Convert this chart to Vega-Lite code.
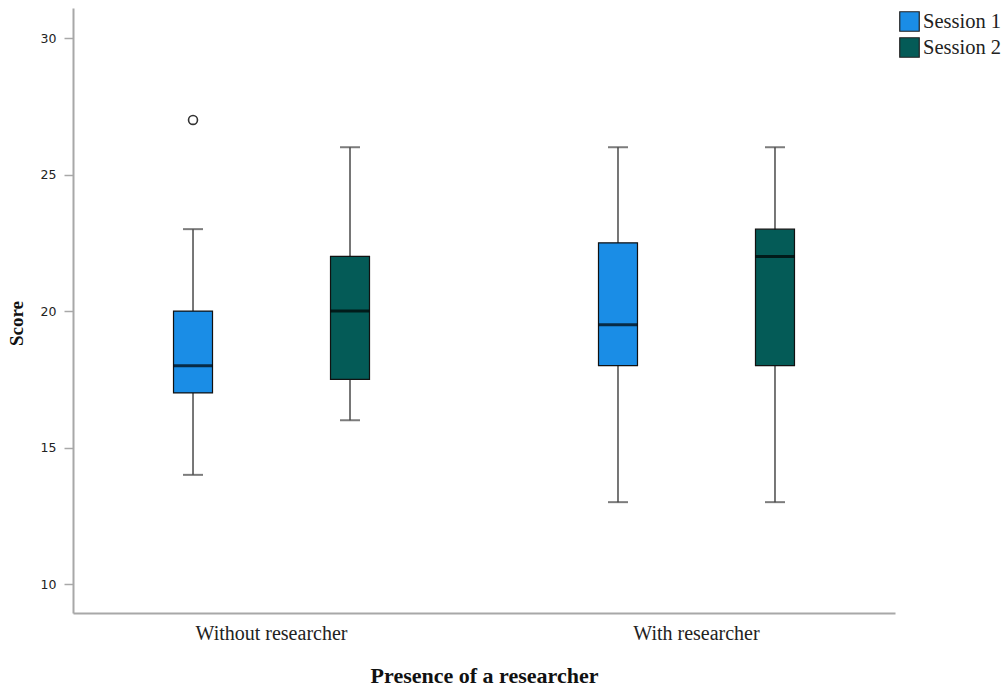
{
  "$schema": "https://vega.github.io/schema/vega-lite/v6.json",
  "width": 822,
  "height": 605,
  "autosize": {"type": "none"},
  "padding": {"left": 73, "top": 8, "right": 112, "bottom": 75},
  "background": "white",
  "config": {
    "view": {"stroke": null},
    "font": "Liberation Serif"
  },
  "datasets": {
    "boxes": [
      {"group": "Without researcher", "session": "Session 1", "lower": 14, "q1": 17, "median": 18, "q3": 20, "upper": 23},
      {"group": "Without researcher", "session": "Session 2", "lower": 16, "q1": 17.5, "median": 20, "q3": 22, "upper": 26},
      {"group": "With researcher", "session": "Session 1", "lower": 13, "q1": 18, "median": 19.5, "q3": 22.5, "upper": 26},
      {"group": "With researcher", "session": "Session 2", "lower": 13, "q1": 18, "median": 22, "q3": 23, "upper": 26}
    ],
    "outliers": [
      {"group": "Without researcher", "session": "Session 1", "score": 27}
    ]
  },
  "encoding": {
    "x": {
      "field": "group", "type": "nominal",
      "sort": ["Without researcher", "With researcher"],
      "scale": {"domain": ["Without researcher", "With researcher"], "paddingInner": 0.2, "paddingOuter": 0.0671},
      "axis": {
        "title": "Presence of a researcher",
        "titleFont": "Liberation Serif", "titleFontSize": 22, "titleFontWeight": "bold", "titleColor": "#111",
        "titlePadding": 22,
        "labelFont": "Liberation Serif", "labelFontSize": 20, "labelColor": "#222", "labelAngle": 0,
        "labelPadding": 10,
        "ticks": false,
        "domainColor": "#a8a8a8", "domainWidth": 2
      }
    },
    "xOffset": {
      "field": "session", "type": "nominal",
      "scale": {"domain": ["Session 1", "Session 2"], "paddingInner": 0.7516, "paddingOuter": 0.4586}
    }
  },
  "layer": [
    {
      "data": {"name": "boxes"},
      "mark": {"type": "rule", "color": "#555555", "strokeWidth": 1.6},
      "encoding": {
        "y": {
          "field": "lower", "type": "quantitative",
          "scale": {"domain": [8.94, 31.1], "nice": false, "zero": false},
          "axis": {
            "title": "Score", "values": [10, 15, 20, 25, 30], "grid": false,
            "titleFont": "Liberation Serif", "titleFontSize": 19, "titleFontWeight": "bold", "titleColor": "#111",
            "titlePadding": 14, "titleY": 315,
            "labelFont": "DejaVu Sans", "labelFontSize": 12.5, "labelColor": "#222",
            "tickColor": "#a8a8a8", "tickSize": 9, "tickWidth": 1.5,
            "domainColor": "#a8a8a8", "domainWidth": 2, "labelPadding": 8
          }
        },
        "y2": {"field": "upper"}
      }
    },
    {
      "data": {"name": "boxes"},
      "mark": {"type": "tick", "color": "#444444", "size": 20, "thickness": 2, "orient": "horizontal"},
      "encoding": {"y": {"field": "upper", "type": "quantitative"}}
    },
    {
      "data": {"name": "boxes"},
      "mark": {"type": "tick", "color": "#444444", "size": 20, "thickness": 2, "orient": "horizontal"},
      "encoding": {"y": {"field": "lower", "type": "quantitative"}}
    },
    {
      "data": {"name": "boxes"},
      "mark": {"type": "bar", "stroke": "#111111", "strokeWidth": 1.2, "opacity": 1},
      "encoding": {
        "y": {"field": "q1", "type": "quantitative"},
        "y2": {"field": "q3"},
        "color": {
          "field": "session", "type": "nominal",
          "scale": {"domain": ["Session 1", "Session 2"], "range": ["#1a8de6", "#045b57"]},
          "legend": {
            "title": null, "orient": "none", "legendX": 826, "legendY": 3,
            "symbolType": "square", "symbolSize": 380, "symbolStrokeColor": "#222", "symbolStrokeWidth": 1.2,
            "symbolOpacity": 1,
            "labelFont": "Liberation Serif", "labelFontSize": 20.5, "labelColor": "#222",
            "labelOffset": 3, "rowPadding": 1
          }
        }
      }
    },
    {
      "data": {"name": "boxes"},
      "mark": {"type": "tick", "color": "#000000", "size": 39, "thickness": 3, "orient": "horizontal"},
      "encoding": {"y": {"field": "median", "type": "quantitative"}}
    },
    {
      "data": {"name": "outliers"},
      "mark": {"type": "point", "shape": "circle", "filled": false, "stroke": "#333333", "strokeWidth": 1.6, "size": 80, "opacity": 1},
      "encoding": {"y": {"field": "score", "type": "quantitative"}}
    }
  ]
}
